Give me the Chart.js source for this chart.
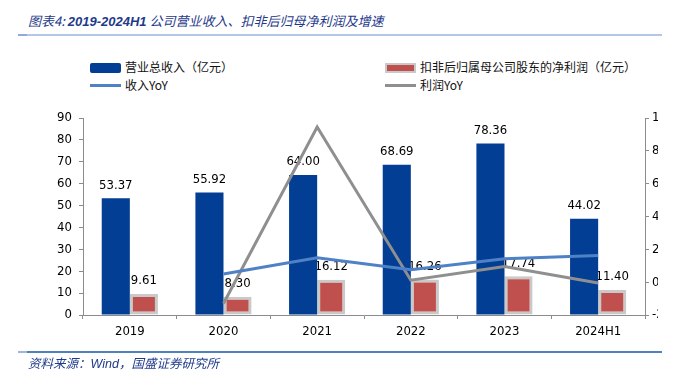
<!DOCTYPE html>
<html>
<head>
<meta charset="utf-8">
<script src="https://cdn.jsdelivr.net/npm/chart.js@4"></script>
<style>
  html, body { margin: 0; padding: 0; width: 678px; height: 381px; overflow: hidden; background: #fff; }
  #wrap { position: relative; width: 678px; height: 381px; }
  #clip { position: absolute; left: 0; top: 0; width: 658px; height: 381px; overflow: hidden; }
  #chart { position: absolute; left: 0; top: 0; }
  .title { position: absolute; left: 28px; top: 11px; font: italic 13px "Noto Sans CJK SC", sans-serif; color: #1f3a8a; white-space: nowrap; }
  .title b { font-family: "Liberation Sans", Arial, sans-serif; font-weight: bold; }
  .rule { position: absolute; height: 2px; }
  .footer { position: absolute; left: 28px; top: 353px; font: italic 12.5px "Noto Sans CJK SC", sans-serif; color: #1f3a8a; white-space: nowrap; }
  .footer span { font-family: "Liberation Sans", Arial, sans-serif; }
  .lg { position: absolute; font: 12px "Noto Sans CJK SC", sans-serif; color: #111; white-space: nowrap; line-height: 14px; }
  .sw { position: absolute; box-sizing: border-box; }
</style>
</head>
<body>
<div id="wrap">
  <div class="title">图表4:&nbsp;<b>2019-2024H1</b> 公司营业收入、扣非后归母净利润及增速</div>
  <div class="rule" style="left:18px; top:34px; width:644px; background:#b4c7e7;"></div>
  <div class="rule" style="left:18px; top:34px; width:9px; background:#8faadc;"></div>
  <div id="legend"></div>
  <div id="clip"><canvas id="chart"></canvas></div>
  <div class="rule" style="left:18px; top:351px; width:644px; background:#4f81bd;"></div>
  <div class="rule" style="left:18px; top:351px; width:9px; background:#9fb6dc;"></div>
  <div class="footer">资料来源：<span>Wind</span>，国盛证券研究所</div>
</div>
<script>
const categories = ['2019', '2020', '2021', '2022', '2023', '2024H1'];
const revenue = [53.37, 55.92, 64.00, 68.69, 78.36, 44.02];
const netProfit = [9.61, 8.30, 16.12, 16.26, 17.74, 11.40];
const revenueYoY = [null, 5.0, 14.8, 7.5, 14.2, 16.3];
const profitYoY = [null, -13.0, 94.5, 1.2, 9.6, -0.5];
const leftTicks = { min: 0, max: 90, step: 10 };
const rightTicks = { min: -20, max: 100, step: 20 };

const names = ['营业总收入（亿元）', '扣非后归属母公司股东的净利润（亿元）', '收入YoY', '利润YoY'];
const colors = { revenue: '#023e94', profit: '#c0504d', profitBorder: '#c9c9c9', revYoY: '#4f81c7', profYoY: '#8f8f8f' };

// legend, laid out like the original two-column box
const legend = document.getElementById('legend');
legend.innerHTML = `
  <div class="sw" style="left:90px; top:63px; width:31px; height:10px; background:${colors.revenue}; border-radius:2px;"></div>
  <div class="lg" style="left:125px; top:60px;">${names[0]}</div>
  <div class="sw" style="left:385px; top:63px; width:31px; height:10px; background:${colors.profit}; border:2px solid ${colors.profitBorder};"></div>
  <div class="lg" style="left:420px; top:60px;">${names[1]}</div>
  <div class="sw" style="left:90px; top:84px; width:31px; height:3px; background:${colors.revYoY};"></div>
  <div class="lg" style="left:125px; top:78px;">${names[2]}</div>
  <div class="sw" style="left:385px; top:84px; width:31px; height:3px; background:${colors.profYoY};"></div>
  <div class="lg" style="left:420px; top:78px;">${names[3]}</div>
`;

const labelFont = "13px 'DejaVu Sans Condensed', 'Liberation Sans', sans-serif";

// value labels for the bars, drawn before the lines so the lines sit on top
const barLabels = {
  id: 'barLabels',
  afterDatasetDraw(chart, args) {
    const ds = chart.data.datasets[args.index];
    if (ds.type !== 'bar') return;
    const ctx = chart.ctx;
    ctx.save();
    ctx.font = labelFont;
    ctx.fillStyle = '#000';
    ctx.textAlign = 'center';
    ctx.textBaseline = 'middle';
    args.meta.data.forEach((bar, i) => {
      ctx.fillText(ds.data[i].toFixed(2), bar.x, bar.y - 13);
    });
    ctx.restore();
  }
};

const canvas = document.getElementById('chart');
const W = 700, H = 381;
canvas.width = W; canvas.height = H;
canvas.style.width = W + 'px'; canvas.style.height = H + 'px';

const tickFont = { family: "'DejaVu Sans Condensed', 'Liberation Sans', sans-serif", size: 13 };

new Chart(canvas.getContext('2d'), {
  data: {
    labels: categories,
    datasets: [
      { type: 'line', label: names[2], data: revenueYoY, yAxisID: 'y1', borderColor: colors.revYoY, borderWidth: 3, pointRadius: 0, tension: 0, spanGaps: true, order: 1 },
      { type: 'line', label: names[3], data: profitYoY, yAxisID: 'y1', borderColor: colors.profYoY, borderWidth: 3, pointRadius: 0, tension: 0, spanGaps: true, order: 1 },
      { type: 'bar', label: names[0], data: revenue, yAxisID: 'y', backgroundColor: colors.revenue, borderWidth: 0, categoryPercentage: 0.6, barPercentage: 1.0, order: 2 },
      { type: 'bar', label: names[1], data: netProfit, yAxisID: 'y', backgroundColor: colors.profit, borderColor: colors.profitBorder, borderWidth: 3, borderSkipped: false, categoryPercentage: 0.6, barPercentage: 1.0, order: 2 }
    ]
  },
  options: {
    responsive: false,
    animation: false,
    devicePixelRatio: 1,
    layout: { padding: { top: 118, left: 0, right: 0, bottom: 0 } },
    plugins: { legend: { display: false }, tooltip: { enabled: false } },
    scales: {
      x: {
        offset: true,
        grid: { offset: true, drawOnChartArea: false, drawTicks: true, tickLength: 4, color: '#8c8c8c' },
        border: { color: '#8c8c8c', width: 1 },
        ticks: { color: '#000', font: tickFont, padding: 5, maxRotation: 0 },
        afterFit(s) { s.height = H - 315; }
      },
      y: {
        position: 'left',
        min: leftTicks.min, max: leftTicks.max,
        grid: { drawOnChartArea: false, drawTicks: true, tickLength: 4, color: '#8c8c8c' },
        border: { color: '#8c8c8c', width: 1 },
        ticks: { stepSize: leftTicks.step, color: '#000', font: tickFont, padding: 7 },
        afterFit(s) { s.width = 83; }
      },
      y1: {
        position: 'right',
        min: rightTicks.min, max: rightTicks.max,
        grid: { drawOnChartArea: false, drawTicks: true, tickLength: 4, color: '#8c8c8c' },
        border: { color: '#8c8c8c', width: 1 },
        ticks: { stepSize: rightTicks.step, color: '#000', font: tickFont, padding: 3, callback: v => v + '%' },
        afterFit(s) { s.width = W - 645; }
      }
    }
  },
  plugins: [barLabels]
});
</script>
</body>
</html>
